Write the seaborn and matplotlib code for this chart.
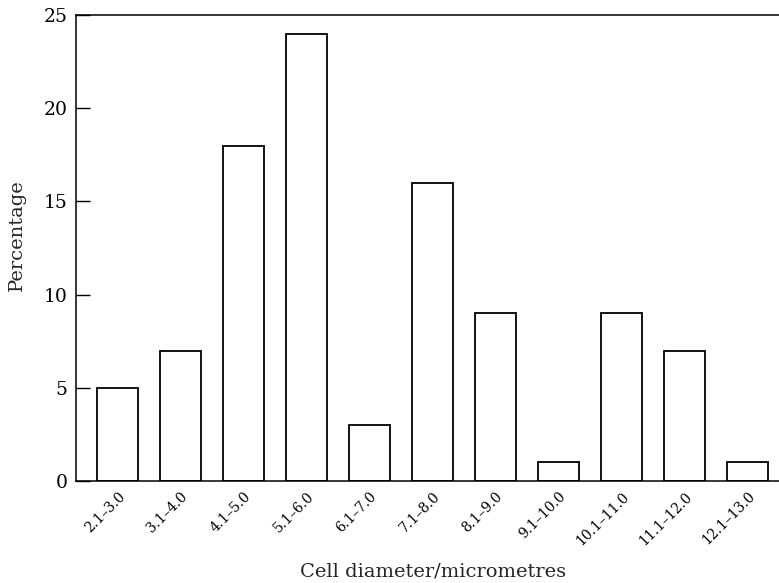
import pandas as pd
import seaborn as sns
import matplotlib.pyplot as plt

# cell diameter classes and percentage of cells in each
classes = ["2.1\u20133.0", "3.1\u20134.0", "4.1\u20135.0", "5.1\u20136.0", "6.1\u20137.0",
           "7.1\u20138.0", "8.1\u20139.0", "9.1\u201310.0", "10.1\u201311.0",
           "11.1\u201312.0", "12.1\u201313.0"]
percent = [5, 7, 18, 24, 3, 16, 9, 1, 9, 7, 1]

df = pd.DataFrame({"Class": classes, "Percentage": percent})

sns.set_style("ticks", {"axes.edgecolor": "black", "text.color": "black",
                        "xtick.color": "black", "ytick.color": "black"})
plt.rcParams["font.family"] = ["DejaVu Serif"]

fig = plt.figure(figsize=(7.79, 5.83), dpi=100)
ax = fig.add_axes([0.0976, 0.175, 0.9024, 0.799])

sns.barplot(data=df, x="Class", y="Percentage", color="white", edgecolor="black",
            linewidth=1.3, width=0.65, saturation=1, ax=ax)

ax.set_xlim(-0.66, 10.5)
ax.set_ylim(0, 25)
ax.set_yticks([0, 5, 10, 15, 20, 25])
ax.tick_params(axis="y", direction="in", length=10, width=1, labelsize=13.5, pad=6)
ax.tick_params(axis="x", length=0, labelsize=10, pad=6)
for lab in ax.get_xticklabels():
    lab.set_rotation(45)
    lab.set_ha("right")
    lab.set_rotation_mode("anchor")

ax.spines["right"].set_visible(False)
for s in ["left", "bottom", "top"]:
    ax.spines[s].set_linewidth(1.1)

ax.set_xlabel("Cell diameter/micrometres", fontsize=14)
ax.set_ylabel("Percentage", fontsize=14)
ax.xaxis.set_label_coords(0.508, -0.174)
ax.yaxis.set_label_coords(-0.071, 0.528)

fig.savefig("out.png", dpi=100)
